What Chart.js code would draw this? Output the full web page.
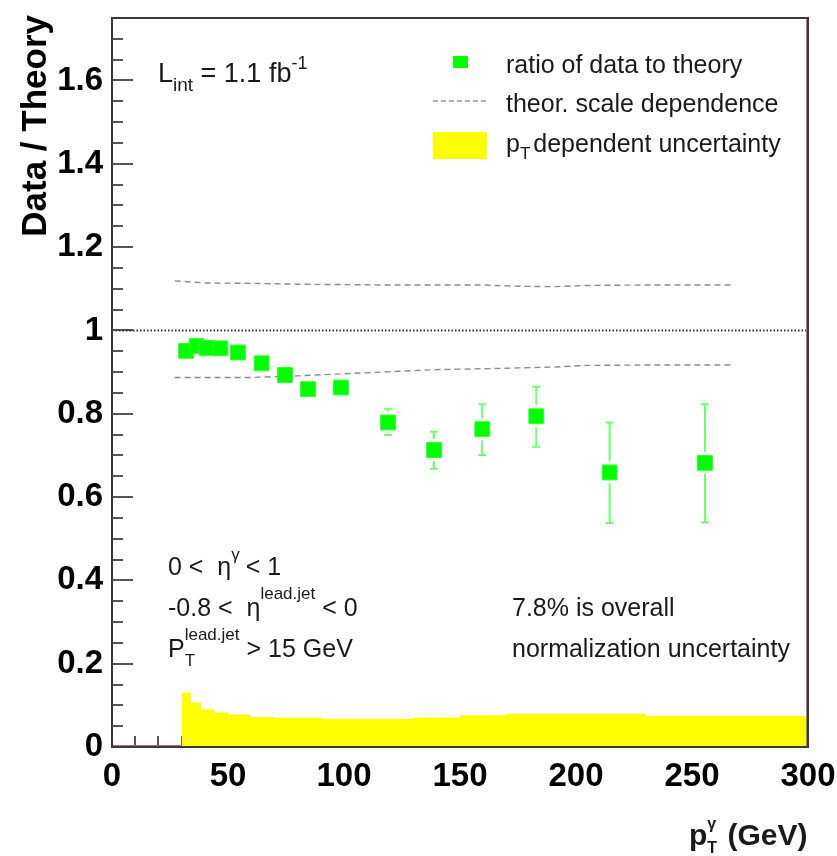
<!DOCTYPE html>
<html>
<head>
<meta charset="utf-8">
<script src="https://cdn.jsdelivr.net/npm/chart.js@4/dist/chart.umd.min.js"></script>
<style>
  html, body { margin: 0; padding: 0; background: #fff; }
  #wrap { width: 837px; height: 856px; position: relative; }
</style>
</head>
<body>
<div id="wrap"><canvas id="ratioChart"></canvas></div>
<script>
// photon pT bins (GeV) and measured data/theory ratio
const ptCenters = [31.9, 36.5, 40.8, 46.7, 54.3, 64.5, 74.6, 84.5, 98.7, 119, 138.8, 159.6, 182.9, 214.5, 255.6];
const ratio     = [0.951, 0.963, 0.958, 0.957, 0.947, 0.921, 0.893, 0.859, 0.863, 0.779, 0.713, 0.763, 0.794, 0.659, 0.682];
const errUp     = [0.010, 0.010, 0.010, 0.010, 0.010, 0.012, 0.012, 0.015, 0.015, 0.033, 0.044, 0.060, 0.071, 0.120, 0.141];
const errDown   = [0.010, 0.010, 0.010, 0.010, 0.010, 0.012, 0.012, 0.015, 0.015, 0.030, 0.045, 0.062, 0.073, 0.121, 0.143];

// pT dependent systematic band (histogram)
const bandEdges = [30, 34, 38.5, 44, 50, 60, 70, 80, 90, 110, 130, 150, 170, 200, 230, 300];
const bandVals  = [0.130, 0.107, 0.090, 0.083, 0.078, 0.072, 0.070, 0.070, 0.067, 0.067, 0.071, 0.076, 0.080, 0.080, 0.075];

// theory scale variation envelope
const scaleX    = [27, 40, 60, 80, 100, 120, 140, 160, 175, 190, 205, 230, 268];
const scaleUp   = [1.119, 1.114, 1.113, 1.111, 1.110, 1.109, 1.109, 1.109, 1.106, 1.105, 1.108, 1.109, 1.109];
const scaleLow  = [0.887, 0.887, 0.887, 0.891, 0.896, 0.901, 0.906, 0.908, 0.910, 0.912, 0.916, 0.917, 0.917];

const xTicks = [0, 50, 100, 150, 200, 250, 300];
const yTicks = [0, 0.2, 0.4, 0.6, 0.8, 1, 1.2, 1.4, 1.6];

const FONT = '"Liberation Sans", Arial, Helvetica, sans-serif';
const INK = '#1a1a1a';
const GREEN = '#00ff00';

const points = ptCenters.map((x, i) => ({ x: x, y: ratio[i] }));
// last edge repeats the last bin value so the step closes at 300
const band = bandEdges.map((x, i) => ({ x: x, y: bandVals[Math.min(i, bandVals.length - 1)] }));
const upper = scaleX.map((x, i) => ({ x: x, y: scaleUp[i] }));
const lower = scaleX.map((x, i) => ({ x: x, y: scaleLow[i] }));

// text with sub/superscripts, runs drawn left to right
const richText = (ctx, x, y, runs) => {
  ctx.save();
  ctx.fillStyle = INK;
  ctx.textAlign = 'left';
  ctx.textBaseline = 'alphabetic';
  runs.forEach(r => {
    const w = r.bold ? 'bold ' : '';
    ctx.font = `${w}${r.size}px ${FONT}`;
    if (r.sub !== undefined || r.sup !== undefined) {
      let wMax = 0;
      if (r.sub) { ctx.fillText(r.sub, x, y + r.subDy); wMax = Math.max(wMax, ctx.measureText(r.sub).width); }
      if (r.sup) { ctx.fillText(r.sup, x, y + r.supDy); wMax = Math.max(wMax, ctx.measureText(r.sup).width); }
      x += wMax + (r.gap || 0);
    } else {
      ctx.fillText(r.t, x, y + (r.dy || 0));
      x += ctx.measureText(r.t).width;
    }
  });
  ctx.restore();
};

// ROOT-like frame: inward ticks under the band, frame lines and labels on top
const rootFrame = {
  id: 'rootFrame',
  beforeDatasetsDraw(chart) {
    const { ctx, chartArea: a, scales: { x, y } } = chart;
    ctx.save();
    ctx.strokeStyle = '#555';
    ctx.lineWidth = 2;
    ctx.beginPath();
    for (let v = 0; v <= 1.75 + 1e-9; v += 0.05) {
      const py = Math.round(y.getPixelForValue(v));
      const major = Math.abs(v / 0.2 - Math.round(v / 0.2)) < 1e-6;
      ctx.moveTo(a.left, py);
      ctx.lineTo(a.left + (major ? 21 : 11), py);
    }
    for (let v = 0; v <= 300; v += 10) {
      const px = Math.round(x.getPixelForValue(v));
      ctx.moveTo(px, a.bottom);
      ctx.lineTo(px, a.bottom - (v % 50 === 0 ? 21 : 11));
    }
    ctx.stroke();
    // thin red histogram baseline below the band start
    ctx.strokeStyle = '#b07070';
    ctx.lineWidth = 1;
    ctx.beginPath();
    ctx.moveTo(a.left, a.bottom - 1.5);
    ctx.lineTo(x.getPixelForValue(bandEdges[0]), a.bottom - 1.5);
    ctx.stroke();
    ctx.restore();
  },
  afterDatasetsDraw(chart) {
    const { ctx, chartArea: a, scales: { x, y } } = chart;

    // vertical error bars, left open where the marker sits
    ctx.save();
    ctx.strokeStyle = '#70ff70';
    ctx.lineWidth = 2;
    ctx.beginPath();
    points.forEach((p, i) => {
      const px = x.getPixelForValue(p.x);
      const py = y.getPixelForValue(p.y);
      const top = y.getPixelForValue(p.y + errUp[i]);
      const bot = y.getPixelForValue(p.y - errDown[i]);
      const gap = 11;
      if (py - top > gap) {
        ctx.moveTo(px, top); ctx.lineTo(px, py - gap);
        ctx.moveTo(px - 4, top); ctx.lineTo(px + 4, top);
      }
      if (bot - py > gap) {
        ctx.moveTo(px, py + gap); ctx.lineTo(px, bot);
        ctx.moveTo(px - 4, bot); ctx.lineTo(px + 4, bot);
      }
    });
    ctx.stroke();
    ctx.restore();

    // frame
    ctx.save();
    ctx.strokeStyle = '#b08080';
    ctx.lineWidth = 1;
    ctx.beginPath();
    ctx.moveTo(a.right - 1.5, a.top); ctx.lineTo(a.right - 1.5, a.bottom);
    ctx.stroke();
    ctx.strokeStyle = '#3a3a3a';
    ctx.lineWidth = 2;
    ctx.strokeRect(a.left, a.top, a.right - a.left, a.bottom - a.top);
    ctx.restore();

    // legend
    ctx.save();
    ctx.fillStyle = GREEN;
    ctx.fillRect(453, 56, 15, 12);
    ctx.strokeStyle = '#9a9a9a';
    ctx.lineWidth = 1.3;
    ctx.setLineDash([5, 3]);
    ctx.beginPath();
    ctx.moveTo(433, 101); ctx.lineTo(487, 101);
    ctx.stroke();
    ctx.setLineDash([]);
    ctx.fillStyle = '#ffff00';
    ctx.fillRect(433, 132, 54, 27);
    ctx.restore();
    richText(ctx, 506, 73, [{ t: 'ratio of data to theory', size: 25 }]);
    richText(ctx, 506, 112, [{ t: 'theor. scale dependence', size: 25 }]);
    richText(ctx, 506, 152, [
      { t: 'p', size: 25 },
      { sub: 'T', subDy: 7, size: 17, gap: 3 },
      { t: 'dependent uncertainty', size: 25 }
    ]);

    // luminosity and selection cuts
    richText(ctx, 158, 82, [
      { t: 'L', size: 27 },
      { sub: 'int', subDy: 9, size: 19 },
      { t: ' = 1.1 fb', size: 27 },
      { sup: '-1', supDy: -13, size: 18 }
    ]);
    richText(ctx, 168, 575, [
      { t: '0 <  \u03b7', size: 25 },
      { sup: '\u03b3', supDy: -15, size: 17, gap: 6 },
      { t: '< 1', size: 25 }
    ]);
    richText(ctx, 168, 616, [
      { t: '-0.8 <  \u03b7', size: 25 },
      { sup: 'lead.jet', supDy: -17, size: 17, gap: 7 },
      { t: '< 0', size: 25 }
    ]);
    richText(ctx, 168, 657, [
      { t: 'P', size: 25 },
      { sub: 'T', subDy: 9, sup: 'lead.jet', supDy: -17, size: 17, gap: 7 },
      { t: '> 15 GeV', size: 25 }
    ]);
    richText(ctx, 512, 616, [{ t: '7.8% is overall', size: 25 }]);
    richText(ctx, 512, 657, [{ t: 'normalization uncertainty', size: 25 }]);

    // axis titles
    ctx.save();
    ctx.fillStyle = '#000';
    ctx.font = `bold 35px ${FONT}`;
    ctx.translate(36, 15);
    ctx.rotate(-Math.PI / 2);
    ctx.textAlign = 'right';
    ctx.textBaseline = 'middle';
    ctx.fillText('Data / Theory', 0, 0);
    ctx.restore();
    richText(ctx, 689, 845, [
      { t: 'p', size: 30, bold: true },
      { sub: 'T', subDy: 8, sup: '\u03b3', supDy: -16, size: 16, bold: true, gap: 2 },
      { t: ' (GeV)', size: 30, bold: true }
    ]);
  }
};

const tickFont = { family: FONT, size: 33, weight: 'bold' };

const chart = new Chart(document.getElementById('ratioChart'), {
  type: 'line',
  data: {
    datasets: [
      {
        label: 'ratio of data to theory',
        data: points,
        showLine: false,
        pointStyle: 'rect',
        pointRadius: 10.5,
        pointBackgroundColor: GREEN,
        pointBorderColor: '#33ff33',
        pointBorderWidth: 1,
        order: 1
      },
      {
        label: 'theor. scale dependence',
        data: upper,
        borderColor: '#8c8c8c',
        borderWidth: 1.4,
        borderDash: [6, 4],
        pointRadius: 0,
        fill: false,
        order: 3
      },
      {
        label: 'theor. scale dependence (low)',
        data: lower,
        borderColor: '#8c8c8c',
        borderWidth: 1.4,
        borderDash: [6, 4],
        pointRadius: 0,
        fill: false,
        order: 3
      },
      {
        label: 'unity',
        data: [{ x: 0, y: 1 }, { x: 300, y: 1 }],
        borderColor: '#333',
        borderWidth: 2,
        borderDash: [1.5, 2],
        pointRadius: 0,
        fill: false,
        order: 4
      },
      {
        label: 'pT dependent uncertainty',
        data: band,
        stepped: 'before',
        borderWidth: 0,
        borderColor: 'rgba(0,0,0,0)',
        backgroundColor: '#ffff00',
        pointRadius: 0,
        fill: 'origin',
        order: 5
      }
    ]
  },
  options: {
    responsive: true,
    maintainAspectRatio: false,
    animation: false,
    layout: { padding: { top: 18, right: 29, left: 0, bottom: 0 } },
    plugins: { legend: { display: false }, tooltip: { enabled: false } },
    scales: {
      x: {
        type: 'linear',
        min: 0,
        max: 300,
        grid: { display: false, drawTicks: false },
        border: { display: false },
        afterBuildTicks: s => { s.ticks = xTicks.map(v => ({ value: v })); },
        afterFit: s => { s.height = 109; s.paddingLeft = 0; s.paddingRight = 0; },
        ticks: { font: tickFont, color: '#000', padding: 10, maxRotation: 0, autoSkip: false,
                 callback: v => String(v) }
      },
      y: {
        type: 'linear',
        min: 0,
        max: 1.75,
        grid: { display: false, drawTicks: false },
        border: { display: false },
        afterBuildTicks: s => { s.ticks = yTicks.map(v => ({ value: v })); },
        afterFit: s => { s.width = 112; s.paddingTop = 0; s.paddingBottom = 0; },
        ticks: { font: tickFont, color: '#000', padding: 9, autoSkip: false,
                 callback: v => String(+v.toFixed(1)) }
      }
    }
  },
  plugins: [rootFrame]
});
</script>
</body>
</html>
